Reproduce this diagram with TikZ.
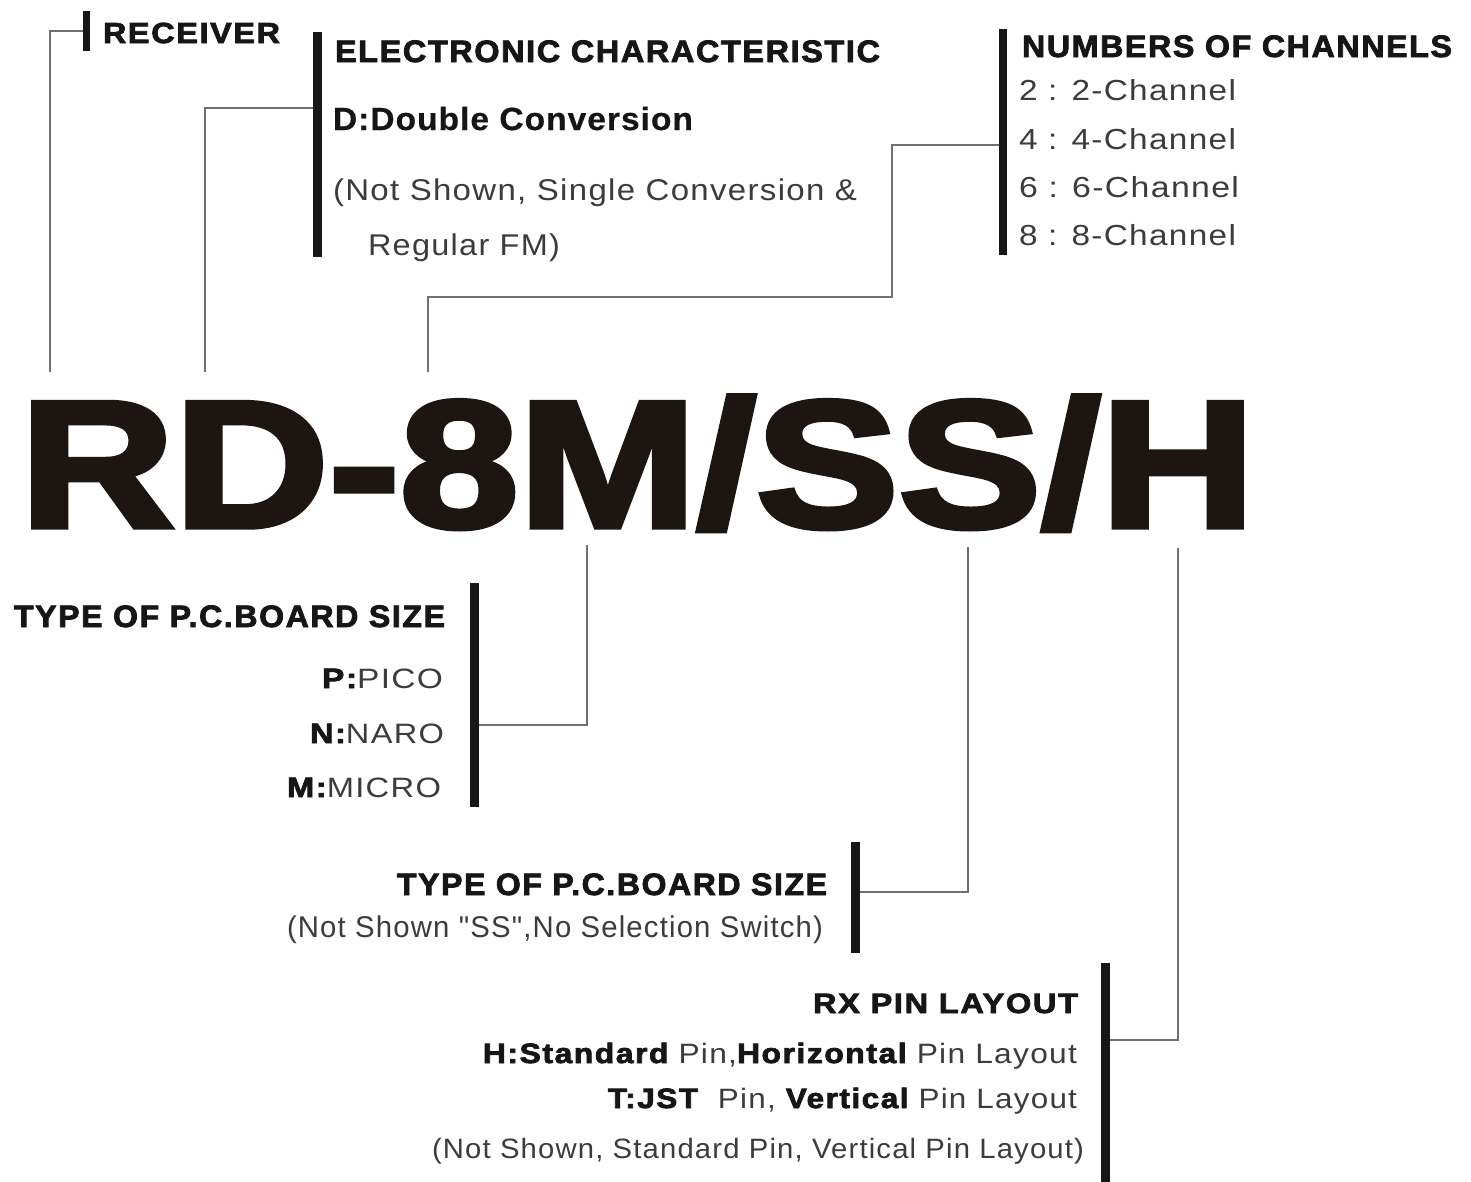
\documentclass[tikz,border=0pt]{standalone}
\usepackage{fontspec}
\usepackage{graphicx}
\setmainfont{Liberation Sans}
\newfontfamily\heavy[FakeBold=2.5,LetterSpace=5]{Liberation Sans Bold}
\newfontfamily\semib[LetterSpace=3,FakeBold=0.5]{Liberation Sans Bold}
\newfontfamily\bigf[FakeBold=3]{Liberation Sans Bold}
\newfontfamily\reg[LetterSpace=4]{Liberation Sans}
\newsavebox\fitbox
\newcommand\fitw[2]{\sbox\fitbox{#2}\pgfmathsetmacro\fitr{#1/\the\wd\fitbox}\scalebox{\fitr}[1]{\usebox\fitbox}}
\newcommand\fsz[1]{\fontsize{#1}{#1}\selectfont}
\newcommand\hb[1]{{\color{headc}\heavy\fsz{28}#1}}
\definecolor{headc}{HTML}{161616}
\definecolor{bodyc}{HTML}{3C3C3C}
\definecolor{linec}{HTML}{707070}
\definecolor{barc}{HTML}{161616}
\definecolor{bigc}{HTML}{1C1512}
\tikzset{
  txt/.style={inner sep=0pt, outer sep=0pt},
  head/.style={txt, text=headc},
  body/.style={txt, text=bodyc},
  bar/.style={fill=barc, draw=none, minimum width=9pt, inner sep=0pt, outer sep=0pt, anchor=north},
  conn/.style={draw=linec, line width=2pt},
}
\begin{document}
\begin{tikzpicture}[x=1pt,y=-1pt]
\useasboundingbox[fill=white] (0,0) rectangle (1471,1181);

% bars
\node[bar, minimum width=7pt, minimum height=40pt] (rcvbar) at (86.5,11) {};
\node[bar, minimum height=225pt] (ecbar) at (317.5,32) {};
\node[bar, minimum width=8pt, minimum height=226pt] (chbar) at (1003,29) {};
\node[bar, minimum height=224pt] (bdbar) at (474,583) {};
\node[bar, minimum height=111pt] (ssbar) at (855,842) {};
\node[bar, minimum height=220pt] (rxbar) at (1105,963) {};

% top texts
\node[head, anchor=base west] (rcv) at (103,43) {\fitw{177}{\heavy\fsz{29}RECEIVER}};
\node[head, anchor=base west] (ech) at (335,62) {\fitw{545}{\heavy\fsz{31}ELECTRONIC CHARACTERISTIC}};
\node[head, anchor=base west] (ecd) at (333,130) {\fitw{360}{\semib\fsz{32}D:Double Conversion}};
\node[body, anchor=base west] (ecn1) at (333,200) {\fitw{524}{\reg\fsz{30}(Not Shown, Single Conversion \&}};
\node[body, anchor=base west] (ecn2) at (368,255) {\fitw{192}{\reg\fsz{30}Regular FM)}};

\node[head, anchor=base west] (chh) at (1022,57) {\fitw{430}{\heavy\fsz{31}NUMBERS OF CHANNELS}};
\node[body, anchor=base west] (ch2) at (1019,100) {\fitw{217}{\reg\fsz{29}2 : 2-Channel}};
\node[body, anchor=base west] (ch4) at (1019,149) {\fitw{217}{\reg\fsz{29}4 : 4-Channel}};
\node[body, anchor=base west] (ch6) at (1019,197) {\fitw{220}{\reg\fsz{29}6 : 6-Channel}};
\node[body, anchor=base west] (ch8) at (1019,245) {\fitw{217}{\reg\fsz{29}8 : 8-Channel}};

% model
\node[txt, text=bigc, anchor=base west] (model) at (20,527) {\fitw{1235}{\bigf\fsz{181}RD-8M/SS/H}};

% board size
\node[head, anchor=base west] (bdh) at (14,627) {\fitw{431}{\heavy\fsz{31}TYPE OF P.C.BOARD SIZE}};
\node[body, anchor=base east] (bdp) at (443,688) {\fitw{121}{\reg\fsz{28}\hb{P:}PICO}};
\node[body, anchor=base east] (bdn) at (444,743) {\fitw{134}{\reg\fsz{28}\hb{N:}NARO}};
\node[body, anchor=base east] (bdm) at (441,797) {\fitw{154}{\reg\fsz{28}\hb{M:}MICRO}};

% SS
\node[head, anchor=base east] (ssh) at (827,895) {\fitw{430}{\heavy\fsz{31}TYPE OF P.C.BOARD SIZE}};
\node[body, anchor=base east] (ssn) at (823,937) {\fitw{536}{\reg\fsz{30}(Not Shown "SS",No Selection Switch)}};

% RX
\node[head, anchor=base east] (rxh) at (1078,1013) {\fitw{265}{\heavy\fsz{28}RX PIN LAYOUT}};
\node[body, anchor=base east] (rxa) at (1077,1063) {\fitw{594}{\reg\fsz{28}\hb{H:Standard} Pin,\hb{Horizontal} Pin Layout}};
\node[body, anchor=base east] (rxb) at (1077,1108) {\fitw{469}{\reg\fsz{28}\hb{T:JST}~ Pin, \hb{Vertical} Pin Layout}};
\node[body, anchor=base east] (rxc) at (1084,1158) {\fitw{652}{\reg\fsz{28}(Not Shown, Standard Pin, Vertical Pin Layout)}};

% connector coordinates
\coordinate (rcvT) at (50,372);
\coordinate (ecT) at (205,372);
\coordinate (ecJ) at (0,108);
\coordinate (chT) at (428,372);
\coordinate (chK) at (892,297);
\coordinate (chJ) at (0,145);
\coordinate (bdT) at (587,545);
\coordinate (bdJ) at (0,725);
\coordinate (ssT) at (968,547);
\coordinate (ssJ) at (0,892);
\coordinate (rxT) at (1178,548);
\coordinate (rxJ) at (0,1040);

\draw[conn] (rcvT) |- (rcvbar.west);
\draw[conn] (ecT) |- (ecbar.west |- ecJ);
\draw[conn] (chT) |- (chK) |- (chbar.west |- chJ);
\draw[conn] (bdT) |- (bdbar.east |- bdJ);
\draw[conn] (ssT) |- (ssbar.east |- ssJ);
\draw[conn] (rxT) |- (rxbar.east |- rxJ);
\end{tikzpicture}
\end{document}
